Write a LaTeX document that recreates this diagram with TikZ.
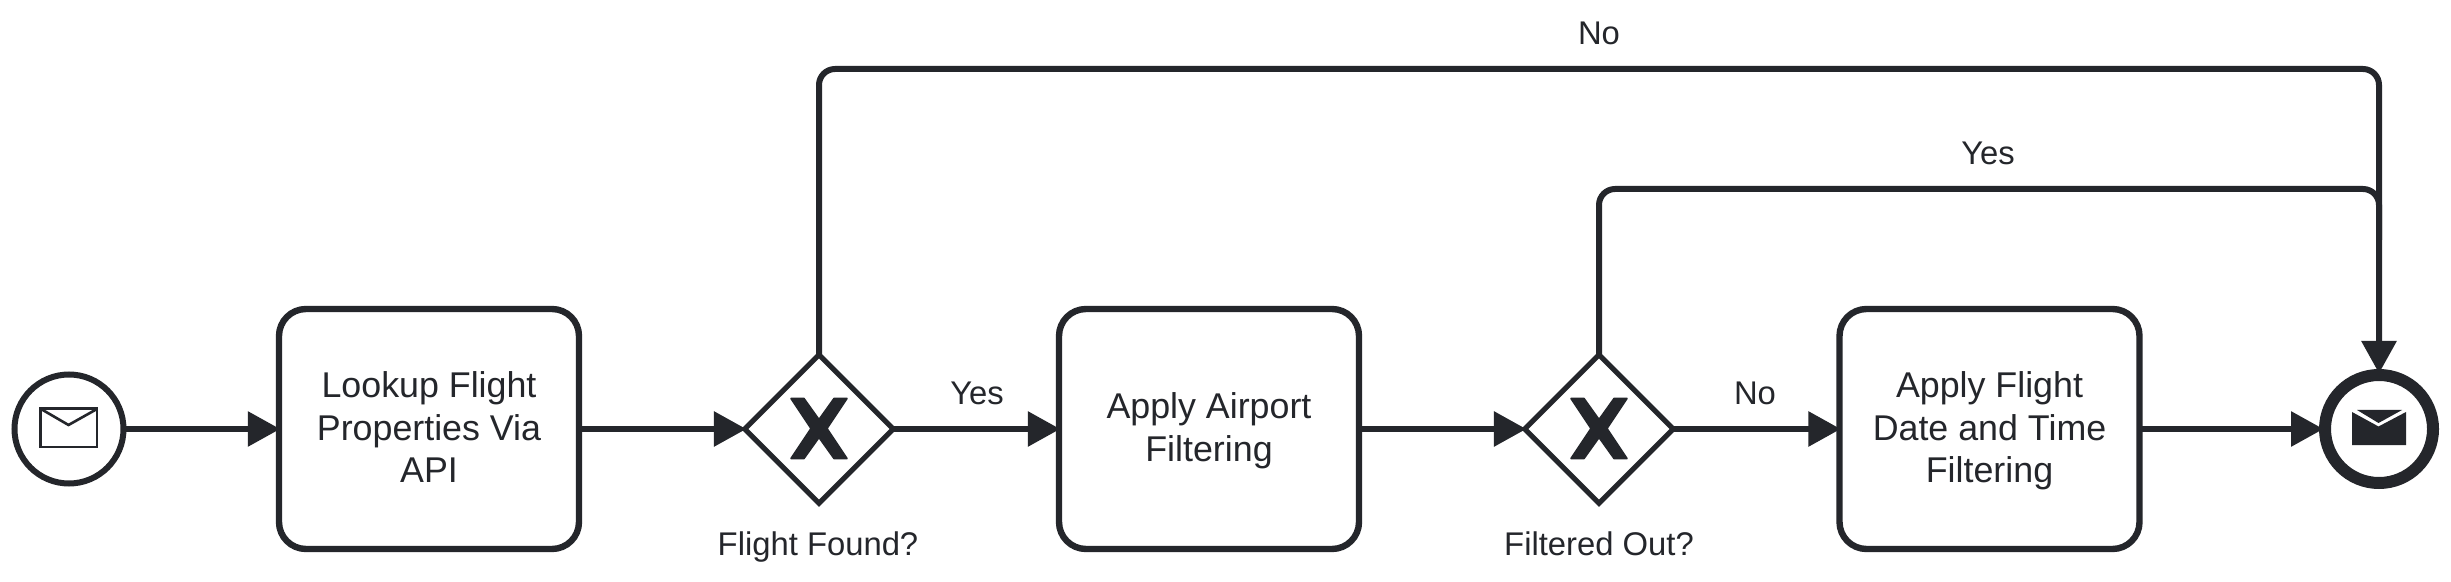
\documentclass[tikz,border=0pt]{standalone}
\usepackage{fontspec}
\setmainfont{Liberation Sans}
\usetikzlibrary{arrows.meta,shapes.geometric}
\definecolor{ink}{HTML}{24262B}
\newcommand{\tstrut}{\rule[-5.2pt]{0pt}{21.4pt}}
\tikzset{
  x=0.5pt,y=-0.5pt,
  flow/.style={draw=ink,line width=3pt,shorten >=-1.2pt,-{Triangle[length=16.2pt,width=17pt]}},
  plainflow/.style={draw=ink,line width=3pt},
  loop/.style={rounded corners=8pt},
  task/.style={draw=ink,line width=3.2pt,rectangle,rounded corners=13.5pt,minimum width=150pt,minimum height=120pt,inner sep=0pt,outer sep=0.6pt,align=center,text=ink,font=\fontsize{17.9}{21.4}\selectfont},
  gateway/.style={draw=ink,line width=2.6pt,diamond,aspect=1,minimum width=74.5pt,minimum height=74.5pt,inner sep=0pt,outer sep=0.3pt},
  startev/.style={draw=ink,line width=3pt,circle,minimum size=54.5pt,inner sep=0pt,outer sep=0.6pt},
  endev/.style={draw=ink,line width=6pt,circle,minimum size=54pt,inner sep=0pt,outer sep=2pt},
  lbl/.style={anchor=base,inner sep=0pt,text=ink,font=\fontsize{16.4}{21.5}\selectfont},
  xmark/.style={fill=ink,draw=ink,line width=0.8pt,line join=round},
}
\newcommand{\gatewayx}[1]{%
  \filldraw[xmark,shift={(#1,428.5)}] (-28,-30) -- (-15,-30) -- (0,-9) -- (15,-30) -- (28,-30) -- (8,0) -- (28,30) -- (15,30) -- (0,9) -- (-15,30) -- (-28,30) -- (-8,0) -- cycle;%
}
\begin{document}
\begin{tikzpicture}
\useasboundingbox (0,0) rectangle (2451,582);
\fill[white] (0,0) rectangle (2451,582);

\node[startev] (start) at (69,429) {};
\node[task] (t1) at (429,429) {\tstrut Lookup Flight\\\tstrut Properties Via\\\tstrut API};
\node[gateway] (g1) at (819,429) {};
\node[task] (t2) at (1209,429) {\tstrut Apply Airport\\\tstrut Filtering};
\node[gateway] (g2) at (1599,429) {};
\node[task] (t3) at (1989.5,429) {\tstrut Apply Flight\\\tstrut Date and Time\\\tstrut Filtering};
\node[endev] (end) at (2379,429) {};

\coordinate (noTop) at (1600,69);
\coordinate (yesTop) at (1990,189);
\coordinate (merge) at (2379,240);

\draw[flow] (start) -- (t1);
\draw[flow] (t1) -- (g1);
\draw[flow] (g1) -- (t2);
\draw[flow] (t2) -- (g2);
\draw[flow] (g2) -- (t3);
\draw[flow] (t3) -- (end);
\draw[flow,loop] (g1.north) |- (noTop) -| (end.north);
\draw[plainflow,loop] (g2.north) |- (yesTop) -| (merge);

\gatewayx{819}
\gatewayx{1599}

% start envelope
\draw[ink,line width=1.3pt,line join=miter] (40.5,408.5) rectangle (97,447);
\draw[ink,line width=1.3pt] (41,409) -- (68.5,425) -- (97,409);
% end envelope
\fill[ink] (2352,412) -- (2378.5,426.5) -- (2406,412) -- (2406,445) -- (2352,445) -- cycle;
\fill[ink] (2357,410) -- (2402,410) -- (2378.5,423) -- cycle;

\node[lbl] (lNo1) at (1599,45) {No};
\node[lbl] (lYes2) at (1988,165) {Yes};
\node[lbl] (lYes1) at (977,405) {Yes};
\node[lbl] (lNo2) at (1755,405) {No};
\node[lbl] (lF1) at (818,555) {Flight Found?};
\node[lbl] (lF2) at (1599,555) {Filtered Out?};
\end{tikzpicture}
\end{document}
